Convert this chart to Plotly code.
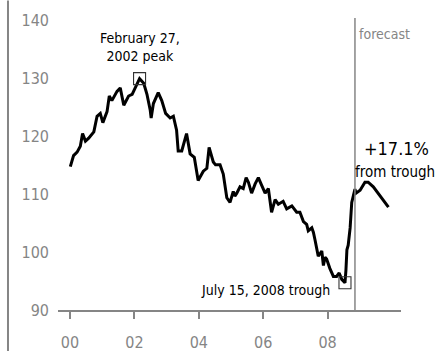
import plotly.graph_objects as go

# Index history (decimal year, index level)
hist_years = [2000.01, 2000.11, 2000.22, 2000.32, 2000.39, 2000.48, 2000.58, 2000.74, 2000.84, 2000.94,
              2001.02, 2001.15, 2001.22, 2001.30, 2001.46, 2001.56, 2001.67, 2001.82, 2001.93, 2002.03,
              2002.16, 2002.29, 2002.39, 2002.49, 2002.52, 2002.59, 2002.74, 2002.85, 2002.97, 2003.11,
              2003.21, 2003.31, 2003.36, 2003.47, 2003.62, 2003.73, 2003.86, 2003.98, 2004.14, 2004.25,
              2004.32, 2004.45, 2004.52, 2004.66, 2004.76, 2004.87, 2004.97, 2005.07, 2005.12, 2005.18,
              2005.28, 2005.38, 2005.47, 2005.54, 2005.64, 2005.75, 2005.85, 2005.95, 2006.06, 2006.16,
              2006.26, 2006.37, 2006.47, 2006.62, 2006.73, 2006.89, 2007.04, 2007.14, 2007.25, 2007.35,
              2007.40, 2007.51, 2007.56, 2007.61, 2007.71, 2007.82, 2007.87, 2007.92, 2007.97, 2008.07,
              2008.13, 2008.18, 2008.28, 2008.36, 2008.44, 2008.54, 2008.57, 2008.60, 2008.64, 2008.70,
              2008.75, 2008.80, 2008.85]
hist_values = [114.8, 116.7, 117.3, 118.3, 120.5, 119.2, 119.7, 120.8, 123.5, 124.0,
               122.4, 124.3, 127.0, 126.2, 127.8, 128.4, 125.4, 127.0, 127.3, 128.4,
               130.0, 129.2, 127.3, 124.6, 123.2, 125.7, 127.6, 126.2, 124.0, 123.2,
               123.5, 121.1, 117.5, 117.5, 120.5, 117.0, 116.4, 112.4, 114.0, 114.5,
               118.1, 115.6, 115.1, 115.1, 113.5, 109.4, 108.6, 110.5, 109.7, 110.2,
               111.3, 111.0, 112.9, 112.1, 110.2, 111.8, 112.9, 111.6, 110.2, 111.0,
               106.9, 109.1, 108.3, 108.8, 107.5, 108.0, 106.9, 106.9, 105.3, 104.8,
               103.7, 104.2, 103.4, 102.1, 99.3, 100.2, 97.7, 99.1, 98.8, 97.2,
               96.4, 95.8, 95.8, 96.4, 95.3, 94.7, 96.9, 100.4, 101.2, 104.2,
               108.6, 109.7, 110.9]

# Forecast path
fc_years = [2008.85, 2008.88, 2009.01, 2009.16, 2009.26, 2009.42, 2009.63, 2009.89]
fc_values = [110.9, 110.2, 110.7, 112.1, 112.1, 111.3, 109.7, 107.8]

peak_year, peak_value = 2002.16, 130.0
trough_year, trough_value = 2008.54, 94.7
forecast_start = 2008.85

x_ticks = [2000, 2002, 2004, 2006, 2008]
x_tick_text = ["00", "02", "04", "06", "08"]
y_ticks = [90, 100, 110, 120, 130, 140]

FONT = "Liberation Sans Narrow, DejaVu Sans Condensed, sans-serif"
GRAY = "#858585"

fig = go.Figure()
fig.add_trace(go.Scatter(x=hist_years + fc_years[1:], y=hist_values + fc_values[1:],
                         mode="lines", line=dict(color="black", width=3),
                         hoverinfo="skip", showlegend=False))
fig.add_trace(go.Scatter(x=[peak_year, trough_year], y=[peak_value, trough_value],
                         mode="markers",
                         marker=dict(symbol="square-open", size=12, color="#333",
                                     line=dict(width=1.1, color="#333")),
                         hoverinfo="skip", showlegend=False))

# forecast divider and left frame line
fig.add_shape(type="line", xref="x", yref="paper", x0=forecast_start, x1=forecast_start,
              y0=0, y1=1, line=dict(color=GRAY, width=1.5))
fig.add_shape(type="line", xref="paper", yref="paper", x0=-0.1458, x1=-0.1458,
              y0=-0.14, y1=1.06, line=dict(color=GRAY, width=2))

fig.add_annotation(x=peak_year, y=peak_value, text="February 27,<br>2002 peak",
                   showarrow=False, yshift=32, font=dict(family=FONT, size=14, color="black"))
fig.add_annotation(x=trough_year, y=trough_value, text="July 15, 2008 trough",
                   showarrow=False, xanchor="right", xshift=-13, yshift=-7,
                   font=dict(family=FONT, size=14, color="black"))
pct = (hist_values[-1] / trough_value - 1) * 100
fig.add_annotation(x=2010.14, y=118.0, text=f"+{pct:.1f}%", showarrow=False,
                   font=dict(family=FONT, size=18, color="black"))
fig.add_annotation(x=2010.1, y=113.9, text="from trough", showarrow=False,
                   font=dict(family=FONT, size=15, color="black"))
fig.add_annotation(x=forecast_start, y=137.7, text="forecast", showarrow=False,
                   xanchor="left", xshift=2, font=dict(family=FONT, size=14, color=GRAY))

fig.update_xaxes(range=[1999.627, 2010.28], tickvals=x_ticks, ticktext=x_tick_text,
                 showgrid=False, zeroline=False, showline=True, linecolor=GRAY, linewidth=1.8,
                 ticks="outside", ticklen=7, tickwidth=1.5, tickcolor=GRAY, ticklabelstandoff=10,
                 tickfont=dict(family=FONT, size=16, color=GRAY))
fig.update_yaxes(range=[90, 140.49], tickvals=y_ticks, showgrid=False, zeroline=False,
                 showline=False, ticks="", ticklabelstandoff=8,
                 tickfont=dict(family=FONT, size=16, color=GRAY))

fig.update_layout(width=439, height=364, margin=dict(l=58, r=38, t=14, b=40),
                  paper_bgcolor="white", plot_bgcolor="white")

fig.write_html("out.html")
